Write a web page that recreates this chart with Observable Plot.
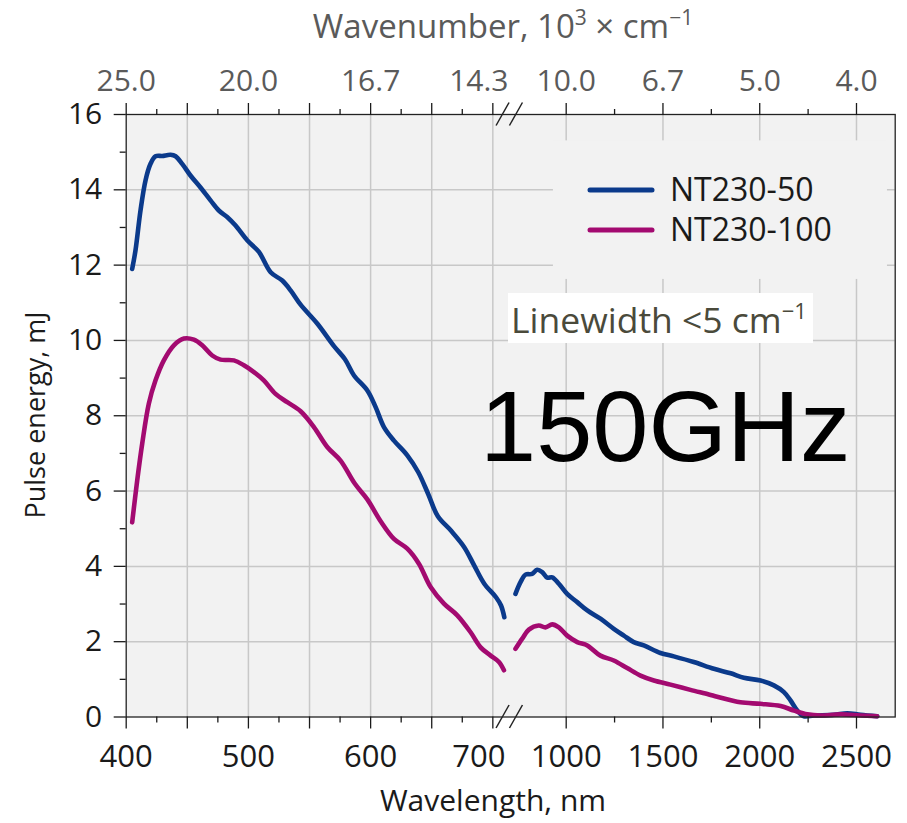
<!DOCTYPE html>
<html><head><meta charset="utf-8">
<script src="https://cdn.jsdelivr.net/npm/d3@7"></script>
<script src="https://cdn.jsdelivr.net/npm/@observablehq/plot@0.6"></script>
<style>
body{margin:0;background:#fff}
#wrap{position:relative;width:907px;height:823px}
</style>
</head><body><div id="wrap"></div>
<script>
// ---- data ----
const seriesNames = ["NT230-50", "NT230-100"];
const seriesColors = ["#0b3a8b", "#a30a70"];

// [wavelength nm, pulse energy mJ]
const blueLeft = [[404.9,11.9],[407.6,12.39],[411.7,13.45],[415.8,14.25],[419.9,14.69],[424,14.89],[429.5,14.9],[436.3,14.93],[440.4,14.89],[445.8,14.69],[452.6,14.38],[460.8,14.06],[469,13.72],[475.8,13.45],[482.6,13.28],[489.5,13.05],[499,12.66],[508.6,12.35],[518.2,11.81],[527.7,11.59],[534.5,11.33],[542.7,10.95],[556.3,10.45],[570,9.85],[579,9.5],[586.4,9.07],[597.3,8.67],[604.1,8.23],[610.9,7.7],[619.1,7.34],[630,6.95],[639,6.5],[647,5.93],[655,5.33],[665.7,4.95],[676.6,4.51],[684.8,4.02],[693,3.54],[702.6,3.18],[706.7,2.96],[709.4,2.65]];
const blueRight = [[738,3.27],[764,3.58],[790,3.78],[824,3.8],[850,3.91],[876,3.85],[902,3.7],[928,3.71],[962,3.54],[1005,3.27],[1057,3.05],[1109,2.83],[1177,2.61],[1246,2.34],[1298,2.16],[1349,1.99],[1401,1.9],[1487,1.7],[1556,1.61],[1659,1.46],[1763,1.28],[1850,1.16],[1918,1.04],[2004,0.97],[2073,0.84],[2125,0.66],[2159,0.44],[2194,0.17],[2228,0.02],[2280,0.04],[2383,0.06],[2452,0.1],[2521,0.06],[2607,0.02]];
const magLeft = [[404.9,5.17],[409,6.28],[413.1,7.26],[418.5,8.32],[424,8.94],[430.8,9.47],[439,9.87],[447.2,10.05],[455.4,10.02],[462.2,9.87],[470.4,9.6],[477.2,9.49],[488.1,9.47],[496.3,9.34],[504.5,9.16],[512.6,8.94],[522.2,8.58],[531.8,8.36],[542.7,8.12],[553.6,7.7],[564.5,7.17],[575.4,6.81],[587,6.2],[597.3,5.78],[608.2,5.2],[619.1,4.73],[630,4.47],[639.5,4.07],[649.1,3.45],[660,3.01],[670.9,2.7],[681.8,2.25],[690,1.85],[698.2,1.63],[705,1.46],[709.1,1.24]];
const magRight = [[738,1.81],[773,2.08],[807,2.32],[858,2.43],[893,2.38],[928,2.46],[962,2.38],[1005,2.16],[1057,1.99],[1109,1.9],[1177,1.63],[1246,1.5],[1315,1.3],[1384,1.1],[1453,0.97],[1539,0.86],[1642,0.72],[1737,0.6],[1780,0.54],[1900,0.39],[2004,0.35],[2108,0.29],[2177,0.17],[2246,0.07],[2315,0.04],[2418,0.07],[2521,0.04],[2607,0.02]];

// axis ticks & labels
const xLabeled = [400, 500, 600, 700, 1000, 1500, 2000, 2500];
const wavenumberLabels = ["25.0", "20.0", "16.7", "14.3", "10.0", "6.7", "5.0", "4.0"];
const xLong = [400, 450, 500, 550, 600, 650, 700, 1000, 1500, 2000, 2500];
const xShort = [425, 475, 525, 575, 625, 675, 1250, 1750, 2250];
const xGrid = [450, 500, 550, 600, 650, 700, 1000, 1500, 2000, 2500];
const yMajor = [0, 2, 4, 6, 8, 10, 12, 14, 16];
const yMinor = [1, 3, 5, 7, 9, 11, 13, 15];
const yGrid = [2, 4, 6, 8, 10, 12, 14];
// broken axis: left segment 400–712 nm, right segment 720–2700 nm
const xBreakDomain = [400, 712, 720, 2700];

// ---- build table ----
const rows = [];
function push(series, segment, pts) { for (const [w, e] of pts) rows.push({series, segment, w, e}); }
push(0, "L", blueLeft); push(0, "R", blueRight);
push(1, "L", magLeft); push(1, "R", magRight);

const W = 907, H = 823;
const mL = 125.7, mR = 12.3, mT = 114, mB = 106.5;
const xRange = [mL, 507, 511.5, W - mR];

const axisStyle = {color: "#1a1a1a", strokeWidth: 1.3};

const plot = Plot.plot({
  width: W, height: H,
  marginLeft: mL, marginRight: mR, marginTop: mT, marginBottom: mB,
  style: {fontFamily: "'Open Sans', sans-serif", background: "#fff", overflow: "visible"},
  x: {type: "linear", domain: xBreakDomain, range: xRange, label: null},
  y: {domain: [0, 16], label: null},
  marks: [
    Plot.frame({fill: "#f2f2f2"}),
    Plot.gridX(xGrid, {stroke: "#c8c8c8", strokeOpacity: 1, strokeWidth: 1.5}),
    Plot.gridY(yGrid, {stroke: "#c8c8c8", strokeOpacity: 1, strokeWidth: 1.5}),
    Plot.rect([0], {x1: 934, x2: 2660, y1: 11.62, y2: 15.3, fill: "#f2f2f2"}),
    ...[0, 1].map(s => Plot.line(rows.filter(r => r.series === s), {
      x: "w", y: "e", z: "segment", stroke: seriesColors[s], strokeWidth: 4.6,
      curve: "catmull-rom", strokeLinecap: "round", strokeLinejoin: "round"
    })),
    Plot.frame({stroke: "#222", strokeWidth: 1.3}),
    // bottom axis
    Plot.axisX(xLong, {anchor: "bottom", tickSize: 12, tickFormat: () => "", ...axisStyle}),
    Plot.axisX(xShort, {anchor: "bottom", tickSize: 6, tickFormat: () => "", ...axisStyle}),
    Plot.axisX(xLabeled.filter(d => d !== 700), {anchor: "bottom", tickSize: 0, tickPadding: 28, fontSize: 31, tickFormat: d => String(d), color: "#1a1a1a"}),
    Plot.axisX([700], {anchor: "bottom", tickSize: 0, tickPadding: 28, fontSize: 31, dx: -14, tickFormat: d => String(d), color: "#1a1a1a"}),
    // top axis
    Plot.axisX(xLong, {anchor: "top", tickSize: 12, tickFormat: () => "", ...axisStyle}),
    Plot.axisX(xShort, {anchor: "top", tickSize: 6, tickFormat: () => "", ...axisStyle}),
    Plot.axisX(xLabeled.filter(d => d !== 700), {anchor: "top", tickSize: 0, tickPadding: 24, fontSize: 30, tickFormat: d => wavenumberLabels[xLabeled.indexOf(d)], color: "#5a5a5a"}),
    Plot.axisX([700], {anchor: "top", tickSize: 0, tickPadding: 24, fontSize: 30, dx: -14, tickFormat: d => wavenumberLabels[xLabeled.indexOf(d)], color: "#5a5a5a"}),
    // left axis
    Plot.axisY(yMajor, {anchor: "left", tickSize: 12, tickPadding: 12, fontSize: 30, tickFormat: d => String(d), ...axisStyle}),
    Plot.axisY(yMinor, {anchor: "left", tickSize: 6, tickFormat: () => "", ...axisStyle})
  ]
});

document.getElementById("wrap").appendChild(plot);
const svg = d3.select(plot);
const xs = plot.scale("x");

// axis break marks
const bx = xs.apply((xBreakDomain[1] + xBreakDomain[2]) / 2);
for (const yy of [H - mB, mT]) {
  for (const off of [-6.7, 6.7]) {
    svg.append("line").attr("x1", bx + off - 6.5).attr("y1", yy + 11.5)
      .attr("x2", bx + off + 6.5).attr("y2", yy - 11.5)
      .attr("stroke", "#222").attr("stroke-width", 1.5);
  }
}

// titles
const t1 = svg.append("text").attr("x", 503).attr("y", 38).attr("text-anchor", "middle")
  .attr("font-family", "'Open Sans', sans-serif").attr("font-size", 33).attr("fill", "#5a5a5a");
t1.append("tspan").text("Wavenumber, 10");
t1.append("tspan").attr("dy", -13).attr("font-size", 21).text("3");
t1.append("tspan").attr("dy", 13).text(" × cm");
t1.append("tspan").attr("dy", -13).attr("font-size", 21).text("−1");

svg.append("text").attr("x", 493).attr("y", 811).attr("text-anchor", "middle")
  .attr("font-family", "'Open Sans', sans-serif").attr("font-size", 30).attr("fill", "#1a1a1a")
  .text("Wavelength, nm");

svg.append("text").attr("transform", "translate(45,415) rotate(-90)").attr("text-anchor", "middle")
  .attr("font-family", "'Open Sans', sans-serif").attr("font-size", 27).attr("fill", "#1a1a1a")
  .text("Pulse energy, mJ");

// legend
seriesNames.forEach((name, i) => {
  const y = 190 + i * 40;
  svg.append("line").attr("x1", 590).attr("x2", 652).attr("y1", y).attr("y2", y)
    .attr("stroke", seriesColors[i]).attr("stroke-width", 5).attr("stroke-linecap", "round");
  svg.append("text").attr("x", 670).attr("y", y + 11).attr("text-anchor", "start")
    .attr("font-family", "'Open Sans', sans-serif").attr("font-size", 32).attr("fill", "#1a1a1a")
    .text(name);
});

// annotations
svg.append("rect").attr("x", 508).attr("y", 293).attr("width", 305).attr("height", 50).attr("fill", "#fff");
const t2 = svg.append("text").attr("x", 511).attr("y", 333).attr("text-anchor", "start")
  .attr("font-family", "'Open Sans', sans-serif").attr("font-size", 35.5).attr("fill", "#4a4a3b");
t2.append("tspan").text("Linewidth <5 cm");
t2.append("tspan").attr("dy", -14).attr("font-size", 22).text("−1");

svg.append("text").attr("x", 480).attr("y", 461).attr("text-anchor", "start")
  .attr("font-family", "'Liberation Sans', Arial, sans-serif").attr("font-size", 101).attr("fill", "#000")
  .text("150GHz");
</script>
</body></html>
